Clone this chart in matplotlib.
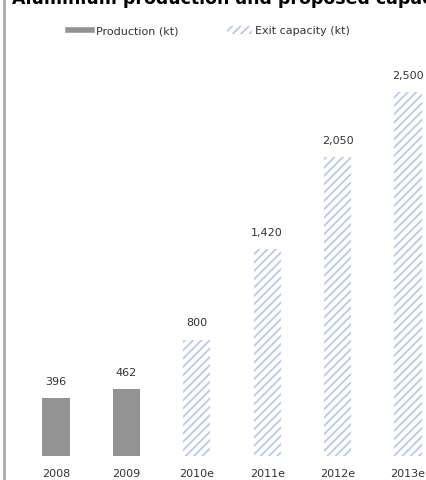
import matplotlib
matplotlib.use("Agg")
import matplotlib.pyplot as plt
from matplotlib.lines import Line2D
from matplotlib.patches import Patch

years = ["2008", "2009", "2010e", "2011e", "2012e", "2013e"]
production = [396, 462]
capacity = [800, 1420, 2050, 2500]
labels = ["396", "462", "800", "1,420", "2,050", "2,500"]

gray = "#939393"
blue = "#b9c9e9"
plt.rcParams["hatch.linewidth"] = 1.3

fig = plt.figure(figsize=(4.27, 4.8), dpi=100)
# axes spans whole width; bottom edge at bar base
ax = fig.add_axes([0, 24 / 480, 1, 376 / 480])
ax.set_xlim(-0.795, 5.27)
ax.set_ylim(0, 2582)

x_prod = list(range(len(production)))
x_cap = list(range(len(production), len(years)))
ax.bar(x_prod, production, width=0.385, color=gray)
ax.bar(x_cap, capacity, width=0.385, color="white", edgecolor=blue,
       hatch="////", linewidth=0)

for i, (v, t) in enumerate(zip(production + capacity, labels)):
    ax.annotate(t, (i, v), xytext=(0, 8), textcoords="offset points",
                ha="center", va="bottom", fontsize=8, color="#333333")

ax.set_xticks(range(len(years)))
ax.set_xticklabels(years, fontsize=8, color="#333333")
ax.tick_params(axis="x", length=0, pad=9.5)
ax.set_yticks([])
for s in ax.spines.values():
    s.set_visible(False)

# left border line
fig.add_artist(Line2D([4.5 / 427, 4.5 / 427], [0, 1], color="#aaaaaa", lw=2))

fig.text(12 / 427, 1 - 4 / 480, "Aluminium production and proposed capacity",
         fontsize=12.5, fontweight="bold", ha="left", va="baseline")

handles = [Line2D([], [], color=gray, lw=4),
           Patch(facecolor="white", edgecolor=blue, hatch="////", linewidth=0)]
fig.legend(handles, ["Production (kt)", "Exit capacity (kt)"], ncol=2,
           loc="center left", bbox_to_anchor=(58 / 427, 1 - 31 / 480),
           frameon=False, fontsize=8, handlelength=2.2, columnspacing=4.4,
           handletextpad=0.3, labelcolor="#333333")

fig.savefig("out.png", dpi=100)
